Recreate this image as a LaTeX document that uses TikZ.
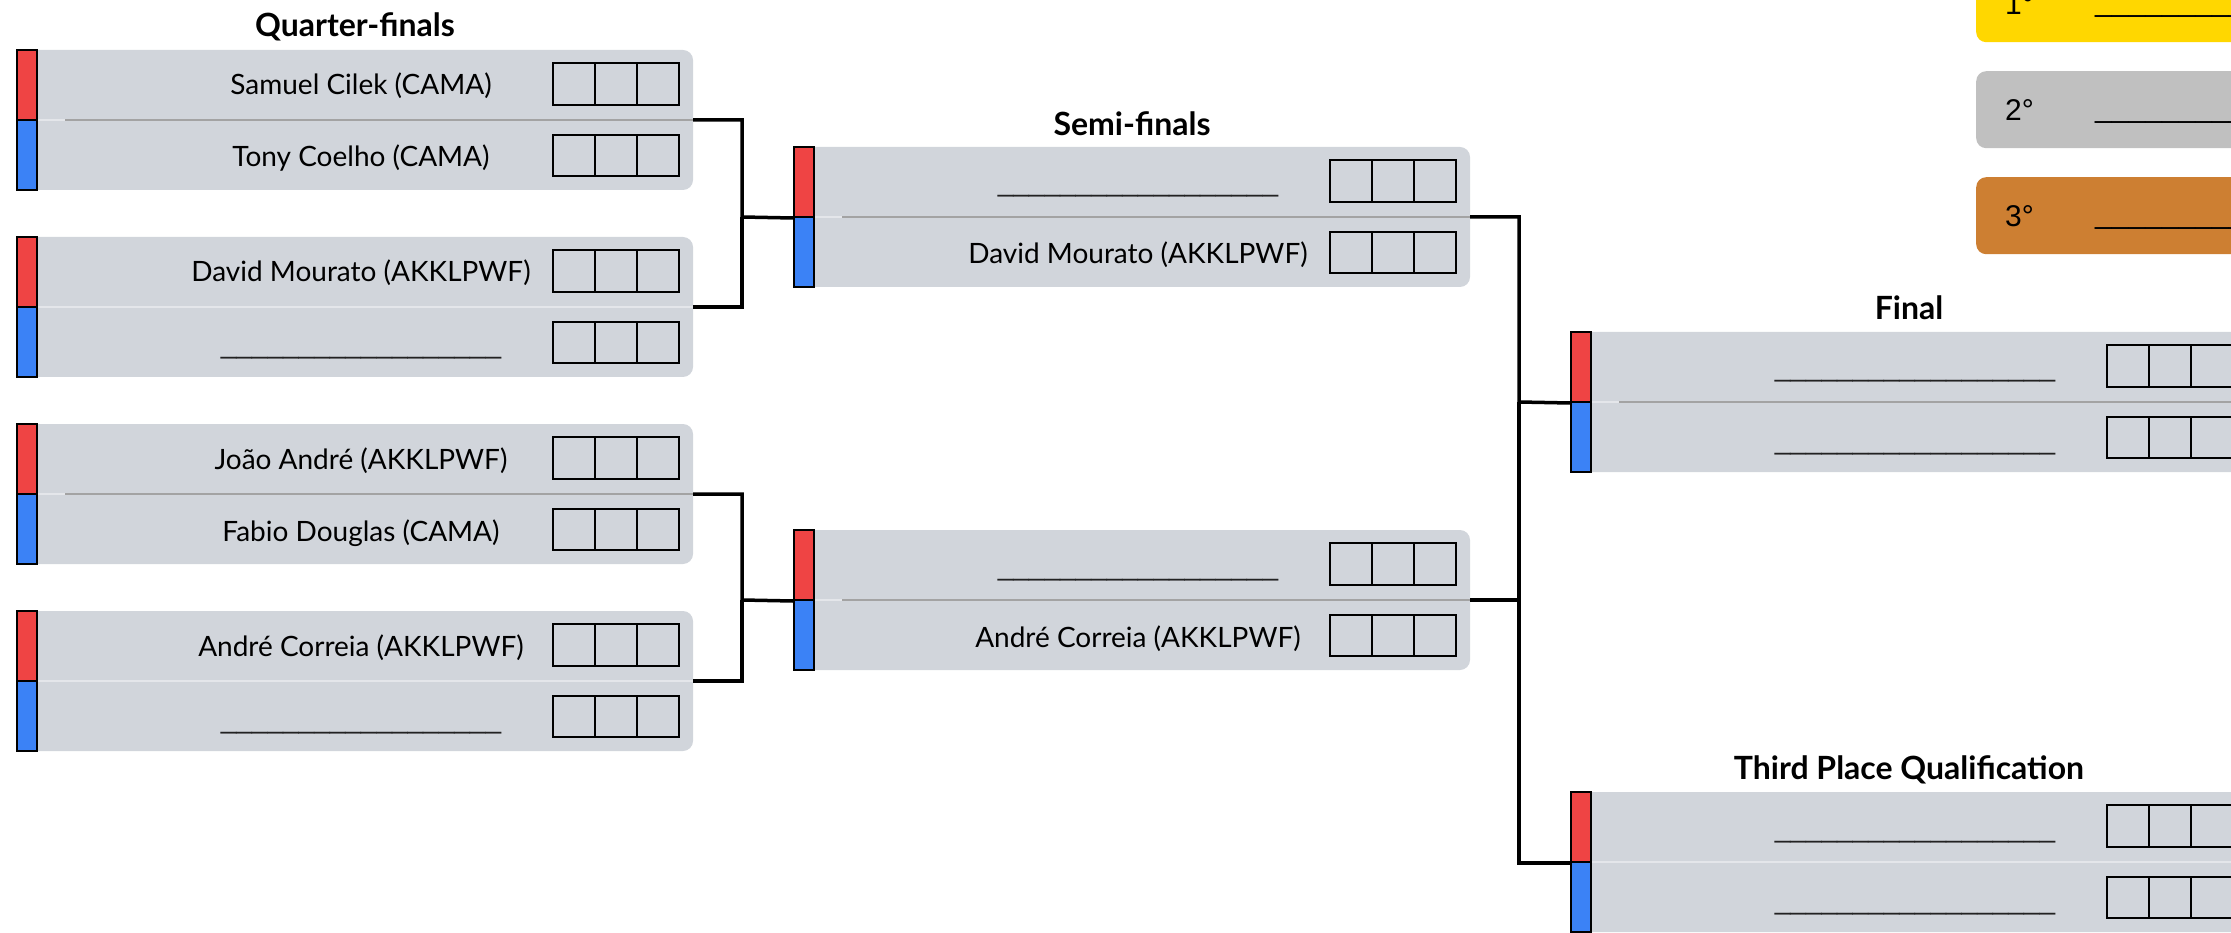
\documentclass[tikz,border=0pt]{standalone}
\usepackage{fontspec}
\setmainfont{Lato}
\newfontfamily\medalfont{Liberation Sans}
\usetikzlibrary{positioning}

\definecolor{boxgray}{HTML}{D1D5DB}
\definecolor{divdark}{HTML}{A3A3A3}
\definecolor{divlight}{HTML}{E4E6EA}
\definecolor{redc}{HTML}{EF4444}
\definecolor{bluec}{HTML}{3B82F6}
\definecolor{goldc}{HTML}{FFD700}
\definecolor{silverc}{HTML}{C0C0C0}
\definecolor{bronzec}{HTML}{CD7F32}
\definecolor{blankc}{HTML}{222222}

\tikzset{
    boutbox/.style={rectangle, fill=boxgray, rounded corners=10pt, minimum width=666pt, minimum height=140pt, inner sep=0pt},
    redbar/.style={rectangle, draw=black, line width=2pt, fill=redc, minimum width=20pt, minimum height=70pt, inner sep=0pt},
    bluebar/.style={redbar, fill=bluec},
    player/.style={anchor=base, inner sep=0pt, font=\fontsize{28}{32}\selectfont},
    stagetitle/.style={anchor=base, inner sep=0pt, font=\fontsize{32}{36}\selectfont\bfseries},
    cell/.style={draw=black, line width=2pt},
    wire/.style={draw=black, line width=3.5pt},
    medal/.style={rectangle, rounded corners=10pt, anchor=north west, minimum width=400pt, minimum height=77pt, inner sep=0pt},
    podium/.style={anchor=base west, inner sep=0pt, font=\medalfont\fontsize{30}{32}\selectfont}
}

\newcommand{\noname}{{\medalfont\color{blankc}\_\_\_\_\_\_\_\_\_\_\_\_\_\_\_\_\_\_}}

\newcommand{\bout}[6]{%
    \node[boutbox] (#1) at ({#2+343}, {#3+70}) {};
    \draw[divlight, line width=1.5pt] ({#2+20}, {#3+70}) -- ({#2+676}, {#3+70});
    \draw[#6, line width=1.5pt] ({#2+48}, {#3+70}) -- ({#2+676}, {#3+70});
    \node[redbar] (#1r) at ({#2+10}, {#3+35}) {};
    \node[bluebar] (#1b) at ({#2+10}, {#3+105}) {};
    \node[player] (#1t) at ({#2+344}, {#3+45}) {#4};
    \node[player] (#1u) at ({#2+344}, {#3+117}) {#5};
    \foreach \k in {0,1,2} {
        \draw[cell] ({#2+536+42*\k}, {#3+13}) rectangle +(42, 42);
        \draw[cell] ({#2+536+42*\k}, {#3+85}) rectangle +(42, 41);
    }
}

\begin{document}
\begin{tikzpicture}[x=1pt, y=-1pt]
    \useasboundingbox (0, 0) rectangle (2231, 933);
    \clip (0, 0) rectangle (2231, 933);

    \node[stagetitle] (tqf) at (355, 37) {Quarter-finals};
    \node[stagetitle] (tsf) at (1132, 136) {Semi-finals};
    \node[stagetitle] (tfin) at (1909, 320) {Final};
    \node[stagetitle] (ttpq) at (1909, 779) {Third Place Qualification};

    \bout{qf1}{17}{50}{Samuel Cilek (CAMA)}{Tony Coelho (CAMA)}{divdark}
    \bout{qf2}{17}{237}{David Mourato (AKKLPWF)}{\noname}{divlight}
    \bout{qf3}{17}{424}{João André (AKKLPWF)}{Fabio Douglas (CAMA)}{divdark}
    \bout{qf4}{17}{611}{André Correia (AKKLPWF)}{\noname}{divlight}
    \bout{sf1}{794}{147}{\noname}{David Mourato (AKKLPWF)}{divdark}
    \bout{sf2}{794}{530}{\noname}{André Correia (AKKLPWF)}{divdark}
    \bout{fin}{1571}{332}{\noname}{\noname}{divdark}
    \bout{tpq}{1571}{792}{\noname}{\noname}{divlight}

    \coordinate (j1) at (742, 217);
    \coordinate (j2) at (742, 600);
    \coordinate (j3) at (1519, 402);

    \draw[wire] (qf1.east) -| (j1) -- (sf1r.south west);
    \draw[wire] (qf2.east) -| (j1);
    \draw[wire] (qf3.east) -| (j2) -- (sf2r.south west);
    \draw[wire] (qf4.east) -| (j2);
    \draw[wire] (sf1.east) -| (j3) -- (finr.south west);
    \draw[wire] (sf2.east) -| (j3);
    \draw[wire] (j3) |- (tpqr.south west);

    \node[medal, fill=goldc] (m1) at (1976, -35) {};
    \node[medal, fill=silverc] (m2) at (1976, 71) {};
    \node[medal, fill=bronzec] (m3) at (1976, 177) {};
    \node[podium] (p1) at (2005, 15) {1°};
    \node[podium] (p2) at (2005, 121) {2°};
    \node[podium] (p3) at (2005, 227) {3°};
    \node[podium] (w1) at (2095, 12) {\_\_\_\_\_\_\_\_\_};
    \node[podium] (w2) at (2095, 118) {\_\_\_\_\_\_\_\_\_};
    \node[podium] (w3) at (2095, 224) {\_\_\_\_\_\_\_\_\_};
\end{tikzpicture}
\end{document}
